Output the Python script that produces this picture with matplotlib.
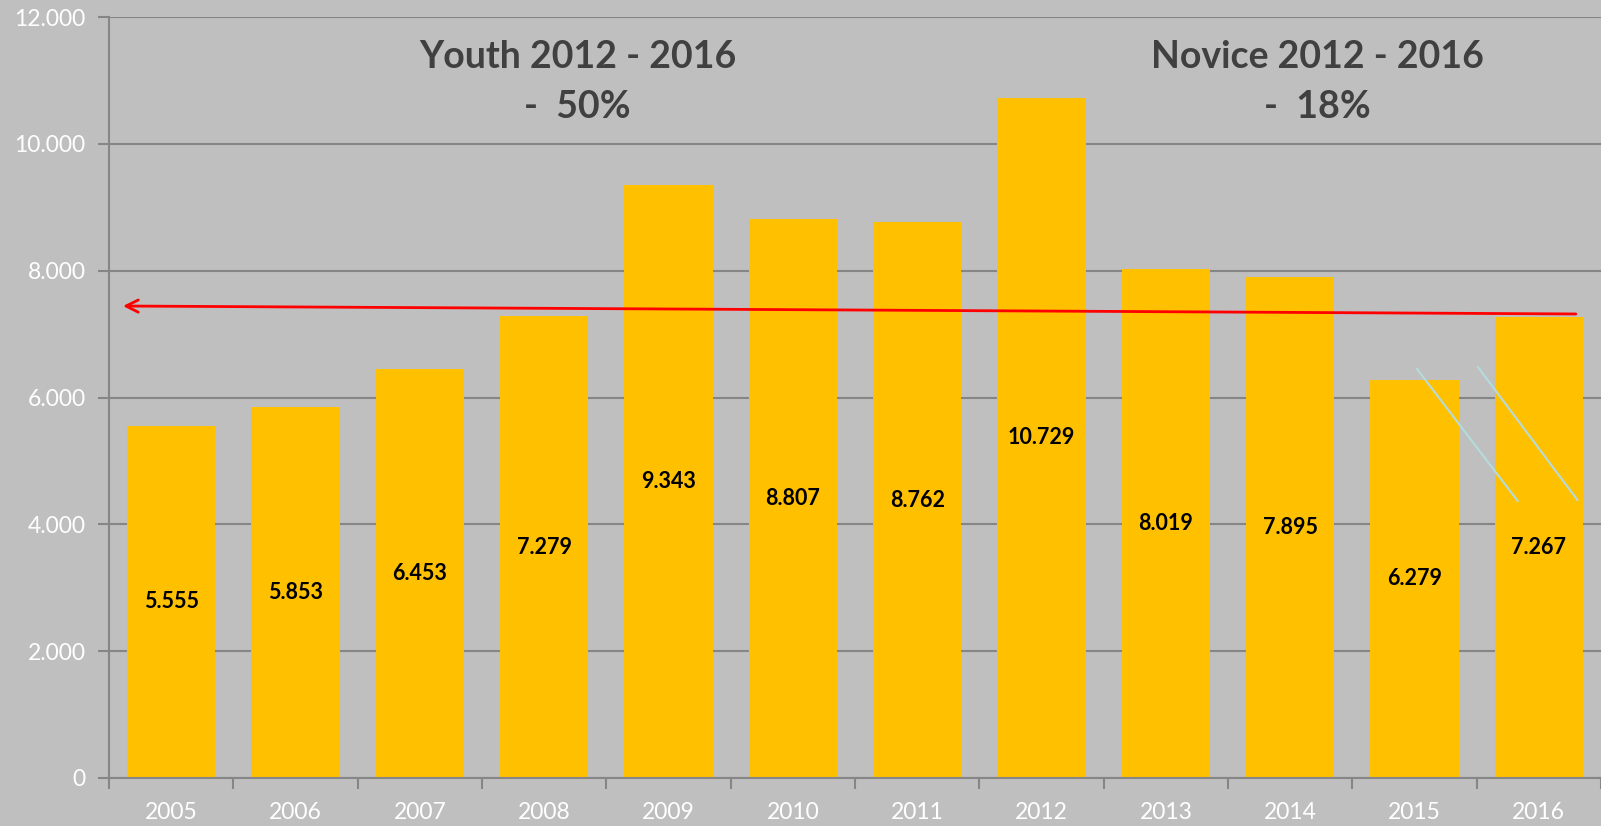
import matplotlib.pyplot as plt
import numpy as np

years = ['2005', '2006', '2007', '2008', '2009', '2010',
         '2011', '2012', '2013', '2014', '2015', '2016']
members = [5555, 5853, 6453, 7279, 9343, 8807, 8762, 10729, 8019, 7895, 6279, 7267]
labels = ['5.555', '5.853', '6.453', '7.279', '9.343', '8.807',
          '8.762', '10.729', '8.019', '7.895', '6.279', '7.267']
yticks = [0, 2000, 4000, 6000, 8000, 10000, 12000]
ytick_labels = ['0', '2.000', '4.000', '6.000', '8.000', '10.000', '12.000']

# trend arrow (start -> end) and the two cyan strokes
trend_x = [11.32, -0.41]
trend_y = [7317, 7443]
strokes = [([10.02, 10.83], [6450, 4368]), ([10.51, 11.31], [6481, 4384])]

BG = '#bfbfbf'
GRID = '#868686'

plt.rcParams['font.family'] = ['Lato', 'DejaVu Sans']

fig = plt.figure(figsize=(16.01, 8.26), dpi=100, facecolor=BG)
ax = fig.add_axes([109 / 1601, 1 - 778 / 826, 1 - 109 / 1601, (778 - 17) / 826])
ax.set_facecolor(BG)

x = np.arange(len(years))
ax.bar(x, members, width=0.71, color='#ffc000', zorder=2)

for xi, v, s in zip(x, members, labels):
    ax.text(xi, v / 2, s, ha='center', va='center', fontsize=15.5,
            fontweight='bold', color='black', zorder=3)

ax.set_xlim(-0.5, 11.5)
ax.set_ylim(0, 12000)
ax.set_yticks(yticks)
ax.set_yticklabels(ytick_labels)
ax.yaxis.grid(True, color=GRID, lw=1.5, zorder=1)
ax.set_axisbelow(True)

ax.set_xticks(x)
ax.set_xticklabels(years)
ax.set_xticks(np.arange(-0.5, 12, 1), minor=True)
ax.tick_params(axis='x', which='major', length=0, pad=17, labelsize=16.5, labelcolor='white')
ax.tick_params(axis='x', which='minor', length=8, width=1.5, color=GRID)
ax.tick_params(axis='y', length=8, width=1.5, color=GRID, labelsize=16.5,
               labelcolor='white', pad=9)

for side in ['top', 'right']:
    ax.spines[side].set_visible(False)
for side in ['left', 'bottom']:
    ax.spines[side].set_color(GRID)
    ax.spines[side].set_linewidth(1.5)

ax.annotate('', xy=(trend_x[1], trend_y[1]), xytext=(trend_x[0], trend_y[0]),
            arrowprops=dict(arrowstyle='->', color='red', lw=2, mutation_scale=22),
            zorder=4)

for sx, sy in strokes:
    ax.plot(sx, sy, color='#b4dcdc', lw=1.5, zorder=4)

title_style = dict(ha='center', va='baseline', fontsize=27, fontweight='bold', color='#404040')
ax.text(3.27, 11197, 'Youth 2012 - 2016', **title_style)
ax.text(3.27, 10408, '-  50%', **title_style)
ax.text(9.22, 11197, 'Novice 2012 - 2016', **title_style)
ax.text(9.22, 10408, '-  18%', **title_style)

fig.savefig('out.png', dpi=100, facecolor=BG)
